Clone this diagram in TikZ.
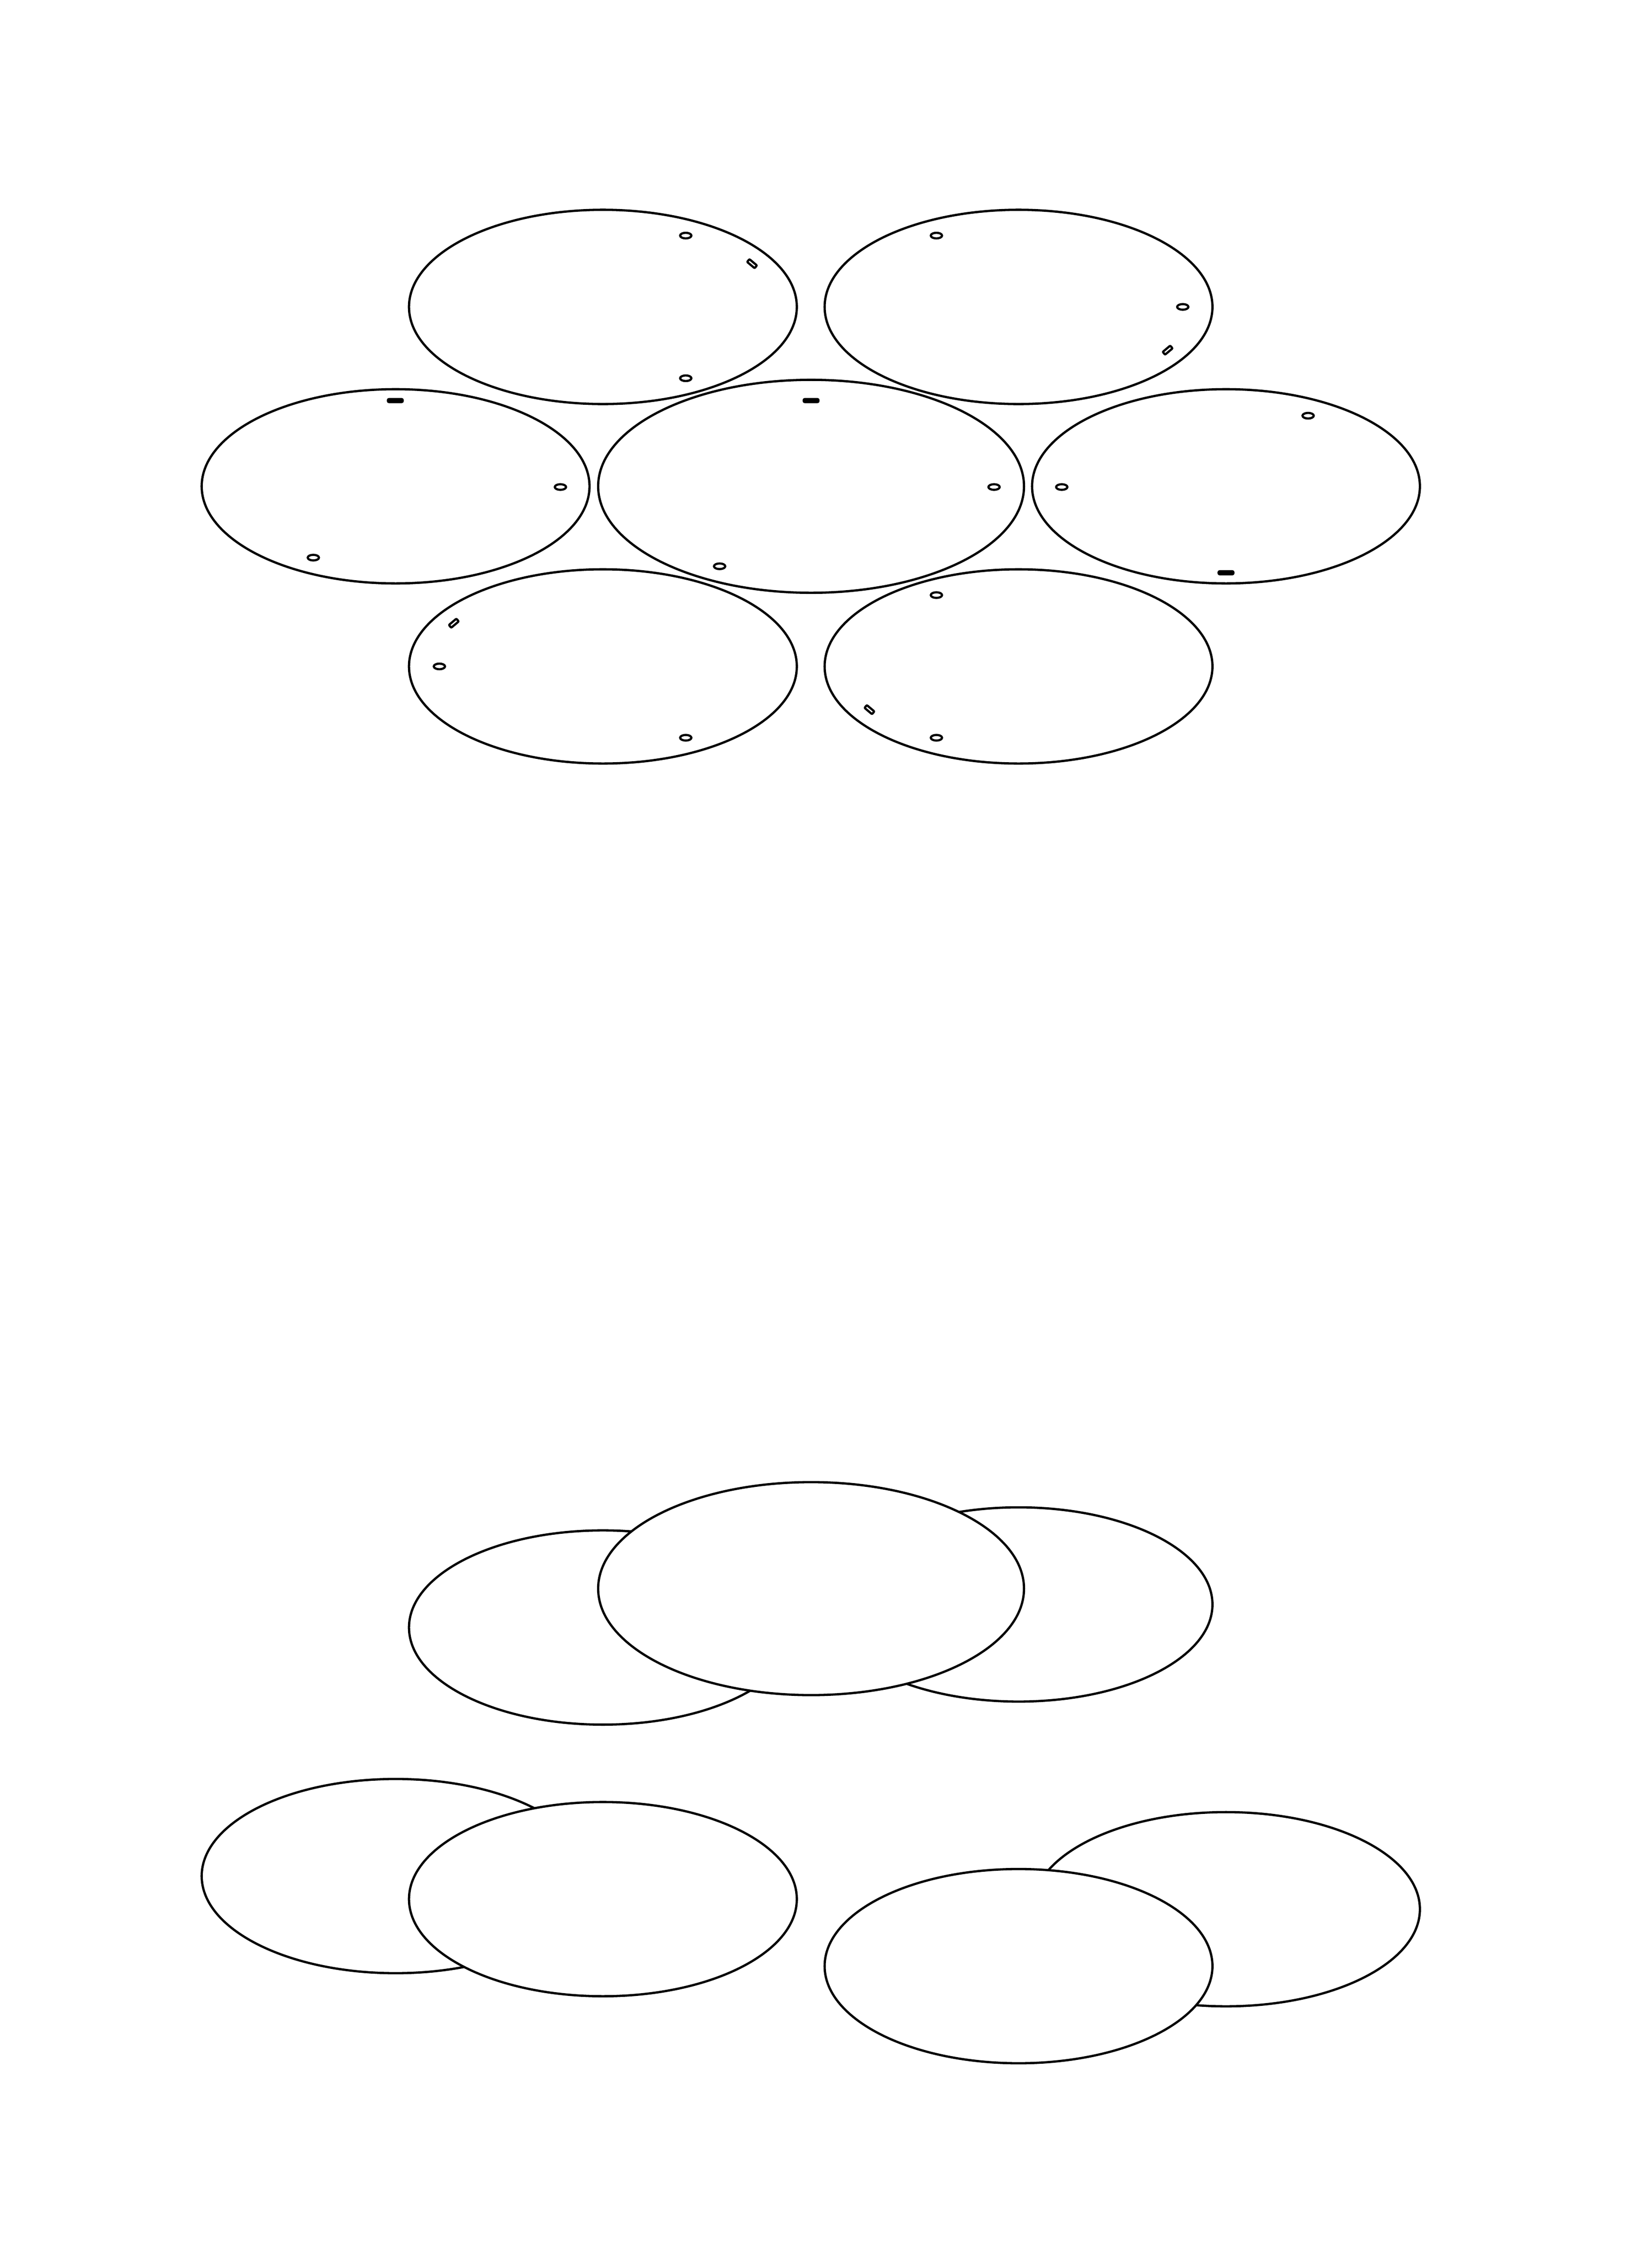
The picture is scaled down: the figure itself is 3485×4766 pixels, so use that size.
\documentclass[tikz,border=0pt]{standalone}
\tikzset{
  disc/.style={draw=black,fill=white,line width=4.8pt},
  hole/.style={draw=black,fill=white,line width=4.6pt},
  slot/.style={draw=black,fill=black,line width=3pt,rounded corners=3pt}
}
\newcommand{\diskA}[2]{\path[disc] (#1,#2) ellipse [x radius=134.6,y radius=67.4];}
\newcommand{\diskB}[2]{\path[disc] (#1,#2) ellipse [x radius=147.8,y radius=73.9];}
\newcommand{\hl}[2]{\path[hole] (#1,#2) ellipse [x radius=3.9,y radius=1.95];}
\newcommand{\slt}[2]{\path[slot] (#1-5.4,#2-1.3) rectangle (#1+5.4,#2+1.3);}
\newcommand{\slant}[3]{\path[hole,rounded corners=2pt,rotate around={#3:(#1,#2)}] (#1-3.4,#2-1.25) rectangle (#1+3.4,#2+1.25);}
\begin{document}
\begin{tikzpicture}[x=1pt,y=-1pt]
\useasboundingbox (0,0) rectangle (3485,4766);
\fill[white] (0,0) rectangle (3485,4766);
\begin{scope}[x=3.04pt,y=-3.04pt]
% top sheet
\diskA{418.5}{213}
\hl{476}{163.5}\slant{522}{183}{-40}\hl{476}{262.5}
\diskA{707}{213}
\hl{650}{163.5}\hl{821}{213}\slant{810.5}{243}{40}
\diskA{274.6}{337.5}
\slt{274.4}{278}\hl{389}{338}\hl{217.5}{387}
\diskB{563}{337.5}
\slt{563}{278}\hl{690}{338}\hl{499.5}{393}
\diskA{851}{337.5}
\hl{908}{288.5}\hl{737}{338}\slt{851}{397.5}
\diskA{418.5}{462.5}
\slant{315}{432.5}{40}\hl{305}{462.5}\hl{476}{512}
\diskA{707}{462.5}
\hl{650}{413}\slant{603.5}{492.5}{-40}\hl{650}{512}
% lower groups
\diskA{418.5}{1129.5}
\diskA{707}{1113.5}
\diskB{563}{1102.5}
\diskA{274.6}{1302}
\diskA{418.5}{1318}
\diskA{851}{1325}
\diskA{707}{1364.5}
\end{scope}
\end{tikzpicture}
\end{document}
